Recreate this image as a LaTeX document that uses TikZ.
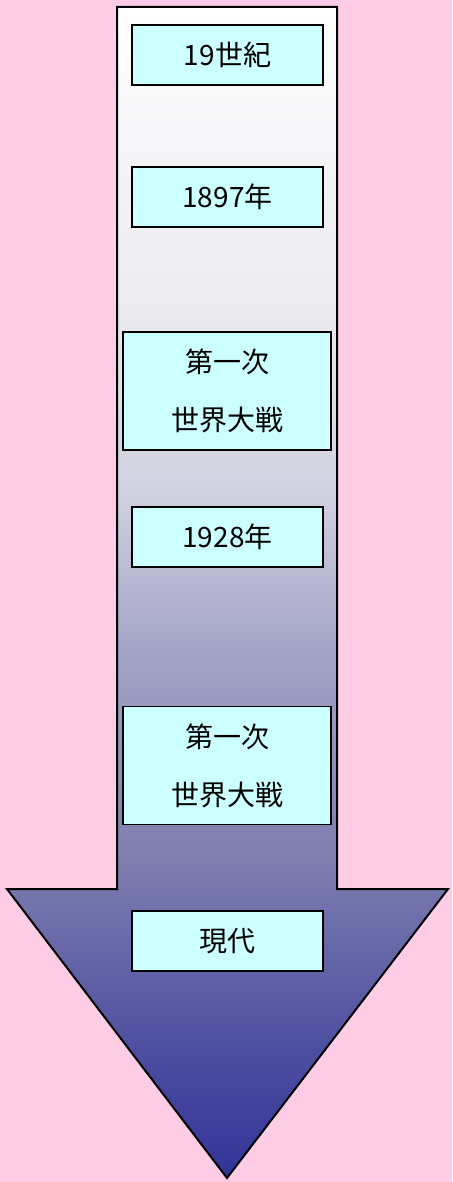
\documentclass[tikz,border=0pt]{standalone}
\usepackage{fontspec}
\newfontfamily\jp{Noto Sans CJK JP}
\definecolor{bgpink}{RGB}{255,204,230}
\definecolor{boxcyan}{RGB}{204,255,255}
\pgfdeclareverticalshading{arrowshade}{100bp}{%
  rgb(0bp)=(0.2,0.2,0.6);
  rgb(25bp)=(0.2,0.2,0.6);
  rgb(30bp)=(0.294,0.294,0.627);
  rgb(38.5bp)=(0.49,0.49,0.686);
  rgb(47.75bp)=(0.647,0.647,0.784);
  rgb(54.5bp)=(0.824,0.824,0.882);
  rgb(62.5bp)=(0.922,0.922,0.941);
  rgb(75bp)=(1,1,1);
  rgb(100bp)=(1,1,1)}
\begin{document}
\begin{tikzpicture}[x=1pt,y=-1pt,
  yearbox/.style={draw=black, line width=1.5pt, fill=boxcyan, inner sep=0pt,
    minimum width=191pt, minimum height=60pt, align=center,
    font=\jp\fontsize{28}{58}\selectfont},
  widebox/.style={yearbox, minimum width=208pt, minimum height=118pt}]
\fill[bgpink] (0,0) rectangle (452,1182);
\useasboundingbox (0,0) rectangle (452,1182);
\coordinate (a1) at (117,7);
\coordinate (a2) at (337,7);
\coordinate (a3) at (337,889);
\coordinate (a4) at (448,889);
\coordinate (a5) at (227,1178);
\coordinate (a6) at (7,889);
\coordinate (a7) at (117,889);
\shade[shading=arrowshade]
  (a1) -- (a2) -- (a3) -- (a4) -- (a5) -- (a6) -- (a7) -- cycle;
\draw[line width=2pt, line join=miter]
  (a1) -- (a2) -- (a3) -- (a4) -- (a5) -- (a6) -- (a7) -- cycle;
\node[yearbox] (b1) at (227.5,55) {19世紀};
\node[yearbox] (b2) at (227.5,197) {1897年};
\node[widebox] (b3) at (227,391) {第一次\\世界大戦};
\node[yearbox] (b4) at (227.5,537) {1928年};
\node[widebox] (b5) at (227,765.5) {第一次\\世界大戦};
\node[yearbox] (b6) at (227.5,941) {現代};
\end{tikzpicture}
\end{document}
